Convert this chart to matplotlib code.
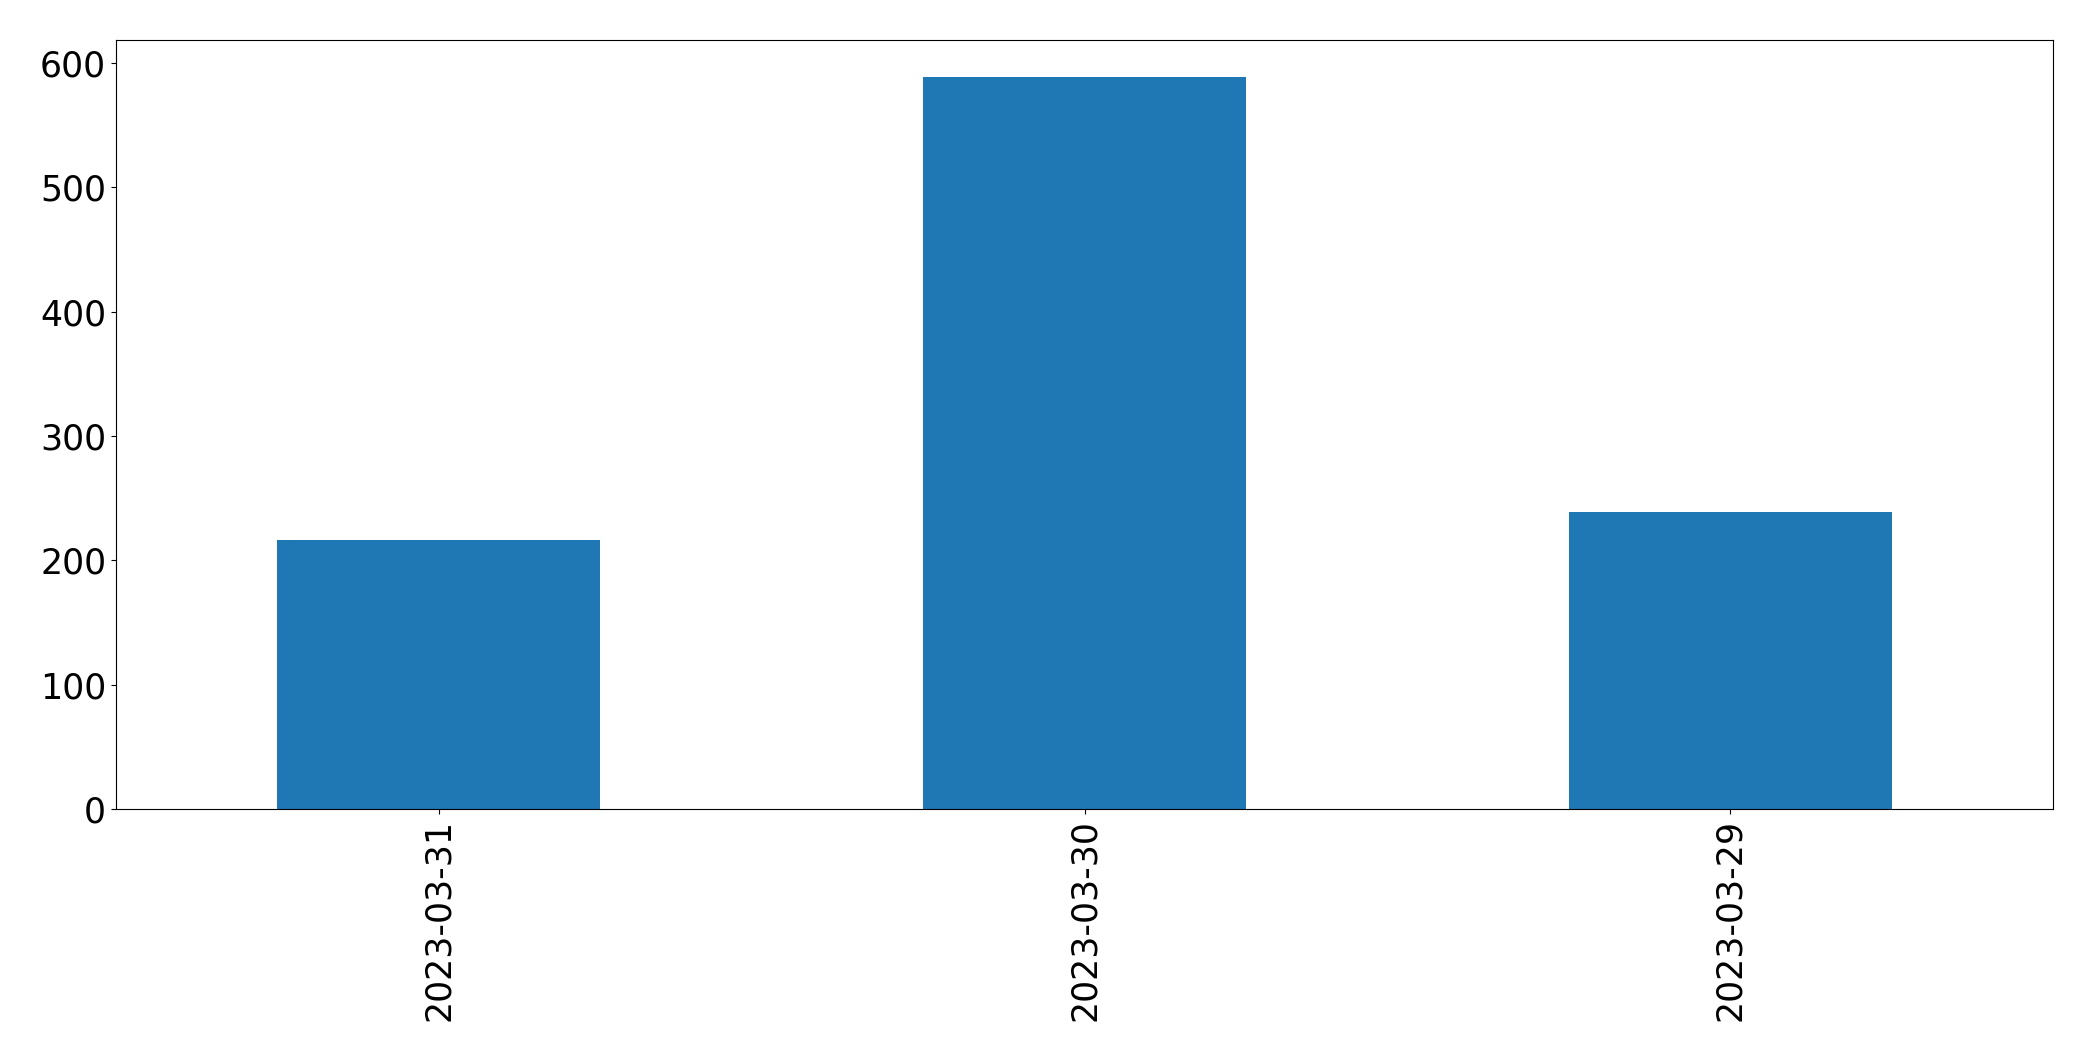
import pandas as pd
import matplotlib
matplotlib.use("Agg")
import matplotlib.pyplot as plt

dates = ["2023-03-31", "2023-03-30", "2023-03-29"]
counts = [216, 589, 239]


def main():
    s = pd.Series(counts, index=dates)

    fig, ax = plt.subplots(figsize=(20.93, 10.61), dpi=100)
    fig.subplots_adjust(left=0.0554, right=0.981, top=0.9623, bottom=0.2375)

    s.plot(kind="bar", ax=ax, color="#1f77b4", width=0.5)
    ax.tick_params(axis="both", labelsize=25)
    ax.tick_params(axis="x", labelrotation=90)

    fig.savefig("out.png", dpi=100)


if __name__ == "__main__":
    main()
